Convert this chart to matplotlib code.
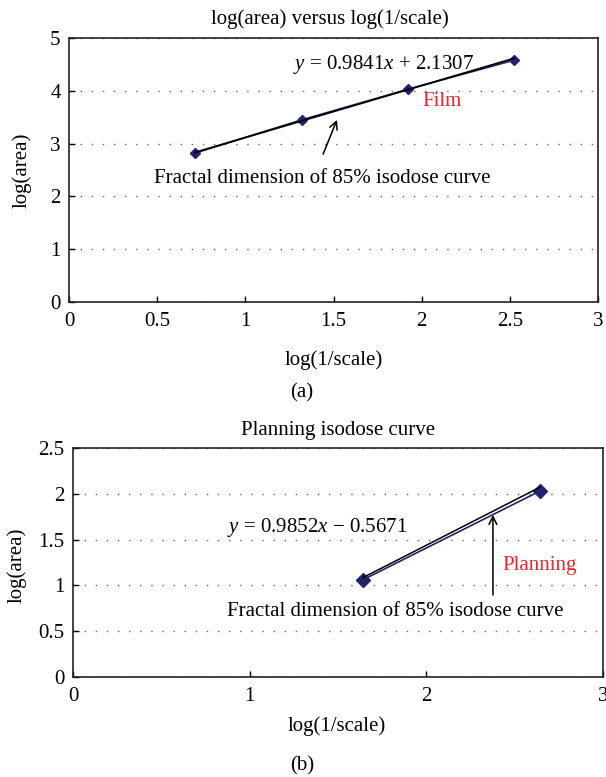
import matplotlib
matplotlib.use("Agg")
import matplotlib.pyplot as plt
from matplotlib.ticker import FuncFormatter

plt.rcParams["font.family"] = ["Liberation Serif", "DejaVu Serif"]
plt.rcParams["mathtext.fontset"] = "custom"
plt.rcParams["mathtext.it"] = "Liberation Serif:italic"
plt.rcParams["mathtext.rm"] = "Liberation Serif"

# ── (a) Film ────────────────────────────────────────────
film_x = [0.715, 1.32, 1.923, 2.524]
film_y = [2.82, 3.45, 4.03, 4.58]
film_slope, film_icpt = 0.9841, 2.1307
film_xticks = [0, 0.5, 1, 1.5, 2, 2.5, 3]
film_yticks = [0, 1, 2, 3, 4, 5]

# ── (b) Planning ────────────────────────────────────────
plan_x = [1.64, 2.643]
plan_y = [1.06, 2.03]
plan_slope, plan_icpt = 0.9852, -0.5671
plan_xticks = [0, 1, 2, 3]
plan_yticks = [0, 0.5, 1, 1.5, 2, 2.5]

NAVY = "#22226e"
RED = "#e8262d"
FS = 15
W, H = 606, 777
fmt = FuncFormatter(lambda v, p: f"{v:g}")

fig = plt.figure(figsize=(W / 100, H / 100), dpi=100)
ax1 = fig.add_axes([69 / W, 1 - 302 / H, 529 / W, 264 / H])
ax2 = fig.add_axes([73 / W, 1 - 677 / H, 530 / W, 229 / H])


def style(ax, xt, yt):
    ax.set_xlim(xt[0], xt[-1])
    ax.set_ylim(yt[0], yt[-1])
    ax.set_xticks(xt)
    ax.set_yticks(yt)
    ax.xaxis.set_major_formatter(fmt)
    ax.yaxis.set_major_formatter(fmt)
    ax.tick_params(direction="in", length=4.5, width=1.0, labelsize=FS)
    ax.tick_params(axis="x", pad=7)
    ax.tick_params(axis="y", pad=6)
    ax.tick_params(top=False, right=False)
    ax.grid(axis="y", color="#666666", linestyle=(0, (1, 7)), linewidth=1.0)
    for s in ax.spines.values():
        s.set_linewidth(1.2)
        s.set_color("#222222")


def ftext(px, py, s, **kw):
    fig.text(px / W, 1 - py / H, s, ha="center", va="center", fontsize=FS, **kw)


# top panel
style(ax1, film_xticks, film_yticks)
ax1.plot(film_x, film_y, color=NAVY, lw=1.2, marker="D", ms=5, zorder=3)
tx = [film_x[0], film_x[-1]]
ax1.plot(tx, [film_slope * v + film_icpt for v in tx], color="black", lw=1.3, zorder=4)
ax1.text(1.785, 4.49, r"$y$ = 0.9841$x$ + 2.1307", fontsize=FS, ha="center", va="center")
ax1.text(2.118, 3.79, "Film", color=RED, fontsize=FS, ha="center", va="center")
ax1.annotate("", xy=(1.52, 3.45), xytext=(1.441, 2.80),
             arrowprops=dict(arrowstyle="->", color="black", lw=1.1,
                             mutation_scale=14, shrinkA=0, shrinkB=0))
ax1.text(1.438, 2.33, "Fractal dimension of 85% isodose curve", fontsize=FS,
         ha="center", va="center")
ftext(330, 19, "log(area) versus log(1/scale)")
ftext(334, 360, "log(1/scale)")
ftext(22, 170, "log(area)", rotation=90)
ftext(302, 393, "(a)")

# bottom panel
style(ax2, plan_xticks, plan_yticks)
ax2.plot(plan_x, plan_y, color=NAVY, lw=1.2, marker="D", ms=7, zorder=3)
ax2.plot(plan_x, [plan_slope * v + plan_icpt + 0.035 for v in plan_x],
         color="black", lw=1.1, zorder=4)
ax2.text(1.381, 1.63, r"$y$ = 0.9852$x$ − 0.5671", fontsize=FS, ha="center", va="center")
ax2.text(2.643, 1.22, "Planning", color=RED, fontsize=FS, ha="center", va="center")
ax2.annotate("", xy=(2.377, 1.77), xytext=(2.377, 0.895),
             arrowprops=dict(arrowstyle="->", color="black", lw=1.1,
                             mutation_scale=14, shrinkA=0, shrinkB=0))
ax2.text(1.822, 0.71, "Fractal dimension of 85% isodose curve", fontsize=FS,
         ha="center", va="center")
ftext(338, 430, "Planning isodose curve")
ftext(337, 726, "log(1/scale)")
ftext(17, 565, "log(area)", rotation=90)
ftext(302, 766, "(b)")

fig.savefig("out.png", dpi=100)
